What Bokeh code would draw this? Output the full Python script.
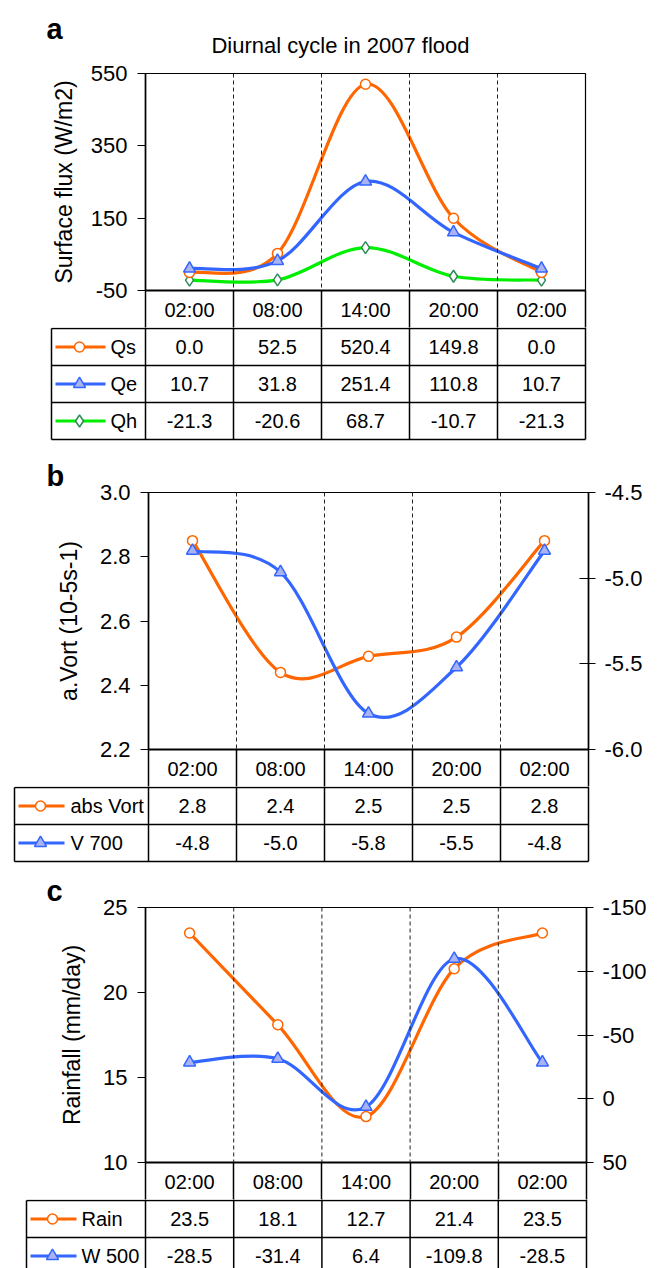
from bokeh.plotting import figure
from bokeh.models import Range1d, FixedTicker, PrintfTickFormatter, LinearAxis, Span, ColumnDataSource
from bokeh.layouts import column
from bokeh.embed import file_html
from bokeh.resources import INLINE
from bokeh.core.properties import value

# ---------------- data ----------------
times = ["02:00", "08:00", "14:00", "20:00", "02:00"]

# panel a (W/m2)
qs = [0.0, 52.5, 520.4, 149.8, 0.0]
qe = [10.7, 31.8, 251.4, 110.8, 10.7]
qh = [-21.3, -20.6, 68.7, -10.7, -21.3]

# panel b (plotted values) + table labels
abs_vort = [2.85, 2.44, 2.49, 2.55, 2.85]
v700 = [-4.84, -4.965, -5.79, -5.52, -4.84]
abs_vort_labels = ["2.8", "2.4", "2.5", "2.5", "2.8"]
v700_labels = ["-4.8", "-5.0", "-5.8", "-5.5", "-4.8"]

# panel c
rain = [23.5, 18.1, 12.7, 21.4, 23.5]
w500 = [-28.5, -31.4, 6.4, -109.8, -28.5]

a_ticks = [-50, 150, 350, 550]
b_left_ticks = [2.2, 2.4, 2.6, 2.8, 3.0]
b_right_ticks = [-6.0, -5.5, -5.0, -4.5]
c_left_ticks = [10, 15, 20, 25]
c_right_ticks = [-150, -100, -50, 0, 50]

title_text = "Diurnal cycle in 2007 flood"

# ---------------- styles ----------------
FONT = "Liberation Sans"
ORANGE = "#FF6600"
BLUE = "#3366FF"
BLUE_FILL = "#AAB2F2"
GREEN = "#00EE00"
GREEN_EDGE = "#2E8B57"
W = 662
N = len(times)
xs = list(range(1, N + 1))
RH = 37  # table row height (px)
TABLE_FS = "20px"

S_QS = dict(color=ORANGE, marker="circle", fill="white", edge=ORANGE, size=10)
S_QE = dict(color=BLUE, marker="triangle", fill=BLUE_FILL, edge=BLUE, size=12)
S_QH = dict(color=GREEN, marker="diamond", fill="white", edge=GREEN_EDGE, size=12)


def bezier_source(ys):
    n = len(ys)
    d = dict(x0=[], y0=[], x1=[], y1=[], cx0=[], cy0=[], cx1=[], cy1=[])
    for i in range(n - 1):
        pm = i - 1 if i > 0 else i
        pp = i + 2 if i + 2 < n else i + 1
        d["x0"].append(xs[i]); d["y0"].append(ys[i])
        d["x1"].append(xs[i + 1]); d["y1"].append(ys[i + 1])
        d["cx0"].append(xs[i] + (xs[i + 1] - xs[pm]) / 6.0)
        d["cy0"].append(ys[i] + (ys[i + 1] - ys[pm]) / 6.0)
        d["cx1"].append(xs[i + 1] - (xs[pp] - xs[i]) / 6.0)
        d["cy1"].append(ys[i + 1] - (ys[pp] - ys[i]) / 6.0)
    return ColumnDataSource(d)


def style_axis(ax, out, inn, standoff, label_standoff=10):
    ax.axis_line_color = "black"
    ax.axis_line_width = 1.6
    ax.major_tick_line_color = "black"
    ax.major_tick_line_width = 1.2
    ax.major_tick_out = out
    ax.major_tick_in = inn
    ax.minor_tick_line_color = None
    ax.major_label_text_font = FONT
    ax.major_label_text_font_size = "22px"
    ax.major_label_text_color = "black"
    ax.major_label_standoff = standoff
    ax.axis_label_text_font = FONT
    ax.axis_label_text_font_size = "23px"
    ax.axis_label_text_font_style = "normal"
    ax.axis_label_text_color = "black"
    ax.axis_label_standoff = label_standoff


def chart_fig(page_top, fl, fr, ft, fb, yr, ticks, fmt, ylabel, lab_standoff, letter=None):
    height = fb + RH - page_top
    p = figure(width=W, height=height, x_range=Range1d(0.5, N + 0.5), y_range=yr,
               x_axis_location="below", y_axis_location="left",
               output_backend="svg", toolbar_location=None, frame_align=False,
               min_border_left=fl, min_border_right=W - fr,
               min_border_top=ft - page_top, min_border_bottom=RH)
    p.grid.visible = False
    p.outline_line_color = "black"
    p.outline_line_width = 1.2
    p.background_fill_color = "white"
    p.border_fill_color = "white"
    ax = p.yaxis[0]
    ax.ticker = FixedTicker(ticks=ticks)
    ax.formatter = PrintfTickFormatter(format=fmt)
    ax.axis_label = ylabel
    style_axis(ax, 8, 0, 10, lab_standoff)
    # time header row as the x axis
    xa = p.xaxis[0]
    xa.ticker = FixedTicker(ticks=xs, minor_ticks=[i + 0.5 for i in range(N + 1)])
    xa.major_label_overrides = {x: t for x, t in zip(xs, times)}
    xa.axis_line_color = "black"
    xa.axis_line_width = 1.8
    xa.major_tick_line_color = None
    xa.major_tick_out = 0
    xa.major_tick_in = 0
    xa.minor_tick_line_color = "black"
    xa.minor_tick_line_width = 1.5
    xa.minor_tick_out = RH
    xa.minor_tick_in = 0
    xa.major_label_standoff = 8 - RH
    xa.major_label_text_font = FONT
    xa.major_label_text_font_size = TABLE_FS
    xa.major_label_text_color = "black"
    for i in range(1, N):
        p.add_layout(Span(location=i + 0.5, dimension="height", line_color="#222222",
                          line_width=1, line_dash="4 3"))
    if letter:
        p.title.text = letter
        p.title.align = "left"
        p.title.offset = 46 - fl
        p.title.standoff = 1
        p.title.text_font = FONT
        p.title.text_font_size = "29px"
        p.title.text_font_style = "bold"
        p.title.text_color = "black"
    return p


def draw_series(p, ys, st, y_range_name="default"):
    p.bezier(x0="x0", y0="y0", x1="x1", y1="y1", cx0="cx0", cy0="cy0", cx1="cx1", cy1="cy1",
             source=bezier_source(ys), line_color=st["color"], line_width=3.2, line_cap="round",
             y_range_name=y_range_name)
    p.scatter(xs, ys, marker=st["marker"], size=st["size"], fill_color=st["fill"],
              line_color=st["edge"], line_width=1.5, y_range_name=y_range_name)


def table_fig(height, fl, fr, legl, rows, leg_px):
    colw = (fr - fl) / N
    pad = 2
    cl = legl - pad
    cr = fr + pad
    xleg = 0.5 - (fl - legl) / colw
    xr = Range1d(0.5 - (fl - legl + pad) / colw, N + 0.5 + pad / colw)
    top = 1.0 / RH
    yr = Range1d(top - height / RH, top)
    p = figure(width=W, height=height, x_range=xr, y_range=yr,
               x_axis_location=None, y_axis_location=None,
               output_backend="svg", toolbar_location=None, frame_align=False,
               min_border_left=int(round(cl)), min_border_right=int(round(W - cr)),
               min_border_top=0, min_border_bottom=0)
    p.grid.visible = False
    p.outline_line_color = None
    nr = len(rows)
    sx0, sy0, sx1, sy1 = [], [], [], []
    for k in range(0, nr + 1):
        sx0.append(xleg); sy0.append(-k); sx1.append(N + 0.5); sy1.append(-k)
    for i in range(N + 1):
        sx0.append(i + 0.5); sy0.append(0.2); sx1.append(i + 0.5); sy1.append(-nr)
    sx0.append(xleg); sy0.append(0); sx1.append(xleg); sy1.append(-nr)
    p.segment(sx0, sy0, sx1, sy1, line_color="black", line_width=1.5)

    tfont = dict(text_font=value(FONT), text_font_size=TABLE_FS, text_color="black",
                 text_baseline="middle")
    l0, l1, lm, lt = leg_px
    for r, (name, labels, st) in enumerate(rows):
        yc = -(r + 0.5)
        p.text(xs, [yc] * N, text=labels, text_align="center", **tfont)
        p.line([xleg + l0 / colw, xleg + l1 / colw], [yc, yc], line_color=st["color"], line_width=3.2)
        p.scatter([xleg + lm / colw], [yc], marker=st["marker"], size=st["size"],
                  fill_color=st["fill"], line_color=st["edge"], line_width=1.5)
        p.text([xleg + lt / colw], [yc], text=[name], text_align="left", **tfont)
    return p


def fmt1(vals):
    return ["%.1f" % v for v in vals]


# ---------------- header (panel letter a + title) ----------------
hdr = figure(width=W, height=58, x_range=Range1d(0, W), y_range=Range1d(58, 0),
             x_axis_location=None, y_axis_location=None, output_backend="svg",
             toolbar_location=None, frame_align=False,
             min_border_left=0, min_border_right=0, min_border_top=0, min_border_bottom=0)
hdr.grid.visible = False
hdr.outline_line_color = None
hdr.text([46], [28], text=["a"], text_font=value(FONT), text_font_size="29px",
         text_font_style="bold", text_baseline="alphabetic", text_align="left", text_color="black")
hdr.text([340], [45], text=[title_text], text_font=value(FONT), text_font_size="22px",
         text_baseline="alphabetic", text_align="center", text_color="black")

# ---------------- panel a ----------------
pa = chart_fig(58, 145, 585, 73, 290, Range1d(-50, 550), a_ticks, "%d",
               "Surface flux (W/m2)", 11)
draw_series(pa, qh, S_QH)
draw_series(pa, qs, S_QS)
draw_series(pa, qe, S_QE)
tab_a = table_fig(128, 145, 585, 51,
                  [("Qs", fmt1(qs), S_QS), ("Qe", fmt1(qe), S_QE), ("Qh", fmt1(qh), S_QH)],
                  (4, 54, 28, 59))

# ---------------- panel b ----------------
pb = chart_fig(455, 148, 588, 492, 749, Range1d(2.2, 3.0), b_left_ticks, "%.1f",
               "a.Vort (10-5s-1)", 15, letter="b")
pb.extra_y_ranges = {"r": Range1d(-6.0, -4.5)}
axb = LinearAxis(y_range_name="r", ticker=FixedTicker(ticks=b_right_ticks),
                 formatter=PrintfTickFormatter(format="%.1f"))
style_axis(axb, 7, 9, 9)
pb.add_layout(axb, "right")
draw_series(pb, abs_vort, S_QS)
draw_series(pb, v700, S_QE, "r")
tab_b = table_fig(84, 148, 588, 14,
                  [("abs Vort", abs_vort_labels, S_QS), ("V 700", v700_labels, S_QE)],
                  (4, 50, 26, 56))

# ---------------- panel c ----------------
pc = chart_fig(870, 145, 586, 907, 1162, Range1d(10, 25), c_left_ticks, "%d",
               "Rainfall (mm/day)", 15, letter="c")
pc.extra_y_ranges = {"r": Range1d(50, -150)}
axc = LinearAxis(y_range_name="r", ticker=FixedTicker(ticks=c_right_ticks),
                 formatter=PrintfTickFormatter(format="%d"))
style_axis(axc, 7, 9, 9)
pc.add_layout(axc, "right")
draw_series(pc, rain, S_QS)
draw_series(pc, w500, S_QE, "r")
tab_c = table_fig(69, 145, 586, 26,
                  [("Rain", fmt1(rain), S_QS), ("W 500", fmt1(w500), S_QE)],
                  (4, 50, 26, 55))

layout = column(hdr, pa, tab_a, pb, tab_b, pc, tab_c, spacing=0)
open("out.html", "w").write(file_html(layout, INLINE))
